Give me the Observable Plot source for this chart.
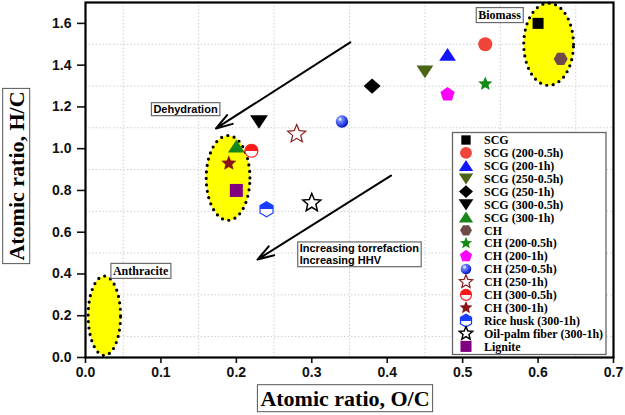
<!DOCTYPE html>
<html><head><meta charset="utf-8">
<script src="https://cdn.jsdelivr.net/npm/d3@7"></script>
<script src="https://cdn.jsdelivr.net/npm/@observablehq/plot@0.6"></script>
<style>
body{margin:0;background:#fff;}
#chart svg{display:block;}
#chart svg [aria-label$="axis tick"]{stroke-width:1.6;}
#chart svg .tick line{stroke-width:1.6;}
</style>
</head><body><div id="chart"></div>
<script>
// ---- data ----
const samples = ["SCG","SCG (200-0.5h)","SCG (200-1h)","SCG (250-0.5h)","SCG (250-1h)","SCG (300-0.5h)","SCG (300-1h)","CH","CH (200-0.5h)","CH (200-1h)","CH (250-0.5h)","CH (250-1h)","CH (300-0.5h)","CH (300-1h)","Rice husk (300-1h)","Oil-palm fiber (300-1h)","Lignite"];
const ocRatio = [0.60,0.53,0.48,0.45,0.38,0.23,0.20,0.63,0.53,0.48,0.34,0.28,0.22,0.19,0.24,0.30,0.20];
const hcRatio = [1.60,1.50,1.45,1.37,1.30,1.13,1.01,1.43,1.31,1.26,1.13,1.07,0.99,0.93,0.71,0.74,0.80];
const xTicks = [0,0.1,0.2,0.3,0.4,0.5,0.6,0.7];
const yTicks = [0,0.2,0.4,0.6,0.8,1.0,1.2,1.4,1.6];
const xGrid = [0.05,0.15,0.25,0.35,0.45,0.55,0.65];
const yGrid = [0.1,0.3,0.5,0.7,0.9,1.1,1.3,1.5];
const regionNames = ["Biomass","Torrefied","Anthracite"];
const regionCx = [0.614,0.189,0.025];
const regionCy = [1.50,0.86,0.20];
const regionRx = [0.033,0.029,0.0215];
const regionRy = [0.197,0.203,0.19];
const arrowX1 = [0.351,0.405], arrowY1 = [1.509,0.871];
const arrowX2 = [0.173,0.228], arrowY2 = [1.097,0.469];
const noteText = ["Biomass","Dehydration","Anthracite","Increasing torrefaction\nIncreasing HHV"];
const noteX = [0.549,0.1326,0.073,0.284];
const noteY = [1.639,1.187,0.414,0.493];

// ---- symbols ----
function poly(pts){ return {draw(ctx,size){ const R=Math.sqrt(size/Math.PI); ctx.moveTo(pts[0][0]*R,pts[0][1]*R); for(let i=1;i<pts.length;i++) ctx.lineTo(pts[i][0]*R,pts[i][1]*R); ctx.closePath(); }}; }
function ring(n, start, inner){ const pts=[]; const m = inner ? 2*n : n; for(let k=0;k<m;k++){ const a=(start + k*360/m)*Math.PI/180; const rr = inner && k%2 ? inner : 1; pts.push([rr*Math.cos(a), rr*Math.sin(a)]);} return pts; }
const sym = {
  square: poly([[-1,-1],[1,-1],[1,1],[-1,1]]),
  circle: {draw(ctx,size){const R=Math.sqrt(size/Math.PI); ctx.moveTo(R,0); ctx.arc(0,0,R,0,2*Math.PI); ctx.closePath();}},
  triUp: poly([[0,-0.85],[1.05,0.75],[-1.05,0.75]]),
  triDown: poly([[0,0.85],[1.05,-0.75],[-1.05,-0.75]]),
  diamond: poly([[0,-0.9],[1,0],[0,0.9],[-1,0]]),
  hexFlat: poly(ring(6,0)),
  hexPointy: poly(ring(6,-90)),
  pentagon: poly(ring(5,-90)),
  star: poly(ring(5,-90,0.45))
};
const markStyles = [
  {symbol:sym.square, r:5.5, fill:"#000"},
  {symbol:sym.circle, r:7, fill:"#f0433a"},
  {symbol:sym.triUp, r:8, fill:"#1515ff"},
  {symbol:sym.triDown, r:8, fill:"#4b6514"},
  {symbol:sym.diamond, r:8.5, fill:"#000"},
  {symbol:sym.triDown, r:8.5, fill:"#000"},
  {symbol:sym.triUp, r:8, fill:"#17871c"},
  {symbol:sym.hexFlat, r:7, fill:"#6e4a4a"},
  {symbol:sym.star, r:7.5, fill:"#148a14"},
  {symbol:sym.pentagon, r:7.5, fill:"#ff00ff"},
  {symbol:sym.circle, r:6.2, fill:"url(#sphereBlue)"},
  {symbol:sym.star, r:9.5, fill:"#fff", stroke:"#8b1c1c", sw:1.2},
  {symbol:sym.circle, r:6.5, fill:"url(#halfRed)", stroke:"#ff2020", sw:1.2},
  {symbol:sym.star, r:8, fill:"#8b1515"},
  {symbol:sym.hexPointy, r:7.5, fill:"url(#halfBlue)", stroke:"#1a3cff", sw:1.2},
  {symbol:sym.star, r:9.5, fill:"#fff", stroke:"#000", sw:1.5},
  {symbol:sym.square, r:6.5, fill:"#800080"}
];

const regionPts = regionNames.flatMap((name,k) => d3.range(72).map(j => {
  const a = j/72*2*Math.PI;
  return {name, x: regionCx[k] + regionRx[k]*Math.cos(a), y: regionCy[k] + regionRy[k]*Math.sin(a)};
}));

const serif = "'Liberation Serif','Times New Roman',serif";
const sans = "'Liberation Sans',Arial,sans-serif";

const marks = [
  Plot.ruleX(xGrid, {stroke:"#cfcfcf", strokeDasharray:"1.5 2", strokeWidth:1}),
  Plot.ruleY(yGrid, {stroke:"#cfcfcf", strokeDasharray:"1.5 2", strokeWidth:1}),
  Plot.line(regionPts, {x:"x", y:"y", z:"name", curve:"linear-closed", fill:"#ffff00", stroke:"#000", strokeWidth:3.2, strokeDasharray:"0 6.5", strokeLinecap:"round"}),
  Plot.arrow(d3.range(arrowX1.length), {x1:i=>arrowX1[i], y1:i=>arrowY1[i], x2:i=>arrowX2[i], y2:i=>arrowY2[i], stroke:"#000", strokeWidth:2, headLength:13, headAngle:35}),
  ...samples.map((s,i) => {
    const st = markStyles[i];
    return Plot.dot([i], {x:j=>ocRatio[j], y:j=>hcRatio[j], symbol:st.symbol, r:st.r, fill:st.fill, stroke:st.stroke || "none", strokeWidth:st.sw || 0});
  }),
  Plot.text([0,2], {x:i=>noteX[i], y:i=>noteY[i], text:i=>noteText[i], fontFamily:serif, fontSize:12, fontWeight:"bold", fill:"#000"}),
  Plot.text([1], {x:i=>noteX[i], y:i=>noteY[i], text:i=>noteText[i], fontFamily:sans, fontSize:11, fontWeight:"bold", fill:"#000"}),
  Plot.text([3], {x:i=>noteX[i], y:i=>noteY[i], text:i=>noteText[i], fontFamily:sans, fontSize:11, fontWeight:"bold", fill:"#000", textAnchor:"start", lineHeight:1.07}),
  Plot.frame({stroke:"#000", strokeWidth:2.2})
];

const plot = Plot.plot({
  width:625, height:415,
  marginLeft:85, marginRight:12, marginTop:2, marginBottom:58,
  style:{fontFamily:sans, fontSize:"14px", fontWeight:"bold", color:"#111", background:"white", overflow:"visible"},
  x:{domain:[0,0.7], ticks:xTicks, tickFormat:d3.format(".1f"), tickSize:6, tickPadding:4, label:null},
  y:{domain:[0,1.7], ticks:yTicks, tickFormat:d3.format(".1f"), tickSize:8, tickPadding:6, label:null},
  marks
});
document.getElementById("chart").appendChild(plot);

const svg = d3.select(plot);
// gradients
const defs = svg.insert("defs", ":first-child");
const rg = defs.append("radialGradient").attr("id","sphereBlue").attr("cx","35%").attr("cy","32%").attr("r","70%");
rg.append("stop").attr("offset","0").attr("stop-color","#ffffff");
rg.append("stop").attr("offset","0.28").attr("stop-color","#6d86ff");
rg.append("stop").attr("offset","1").attr("stop-color","#0010c8");
[["halfRed","#ff1a1a"],["halfBlue","#1a3cff"]].forEach(([id,c]) => {
  const lg = defs.append("linearGradient").attr("id",id).attr("x1",0).attr("y1",0).attr("x2",0).attr("y2",1);
  lg.append("stop").attr("offset","0").attr("stop-color",c);
  lg.append("stop").attr("offset","0.5").attr("stop-color",c);
  lg.append("stop").attr("offset","0.5").attr("stop-color","#fff");
  lg.append("stop").attr("offset","1").attr("stop-color","#fff");
});

// boxes around annotation texts
plot.querySelectorAll('g[aria-label="text"] text').forEach(t => {
  const b = t.getBBox();
  const r = document.createElementNS("http://www.w3.org/2000/svg","rect");
  r.setAttribute("x", b.x-2); r.setAttribute("y", b.y-0.5);
  r.setAttribute("width", b.width+4); r.setAttribute("height", b.height+1);
  r.setAttribute("fill","#fff"); r.setAttribute("stroke","#6a6a6a"); r.setAttribute("stroke-width","1.2");
  if (t.getAttribute("transform")) r.setAttribute("transform", t.getAttribute("transform"));
  t.parentNode.insertBefore(r, t);
});

// axis titles
function boxedTitle(txt, transform){
  const g = svg.append("g").attr("transform", transform);
  const t = g.append("text").text(txt).attr("text-anchor","middle").attr("dy","0.35em")
    .attr("font-family",serif).attr("font-size",22).attr("font-weight","bold").attr("fill","#000");
  const b = t.node().getBBox();
  g.insert("rect","text").attr("x",b.x-3).attr("y",b.y-1).attr("width",b.width+6).attr("height",b.height+2)
    .attr("fill","#fff").attr("stroke","#555").attr("stroke-width",1);
}
boxedTitle("Atomic ratio, O/C", "translate(345,398)");
boxedTitle("Atomic ratio, H/C", "translate(16,176) rotate(-90)");

// legend
const lg = svg.append("g");
lg.append("rect").attr("x",452.5).attr("y",132.5).attr("width",153.5).attr("height",222)
  .attr("fill","#fff").attr("stroke","#666").attr("stroke-width",1.3);
samples.forEach((s,i) => {
  const st = markStyles[i];
  const y = 140 + i*12.9;
  const lr = Math.min(st.r*0.85, 7);
  lg.append("path").attr("transform",`translate(466,${y})`)
    .attr("d", d3.symbol(st.symbol, Math.PI*lr*lr)())
    .attr("fill", st.fill).attr("stroke", st.stroke || "none").attr("stroke-width", st.sw || 0);
  lg.append("text").attr("x",484).attr("y",y).attr("dy","0.35em").attr("text-anchor","start").text(s)
    .attr("font-family",serif).attr("font-size",12).attr("font-weight","bold").attr("fill","#000");
});
</script>
</body></html>
